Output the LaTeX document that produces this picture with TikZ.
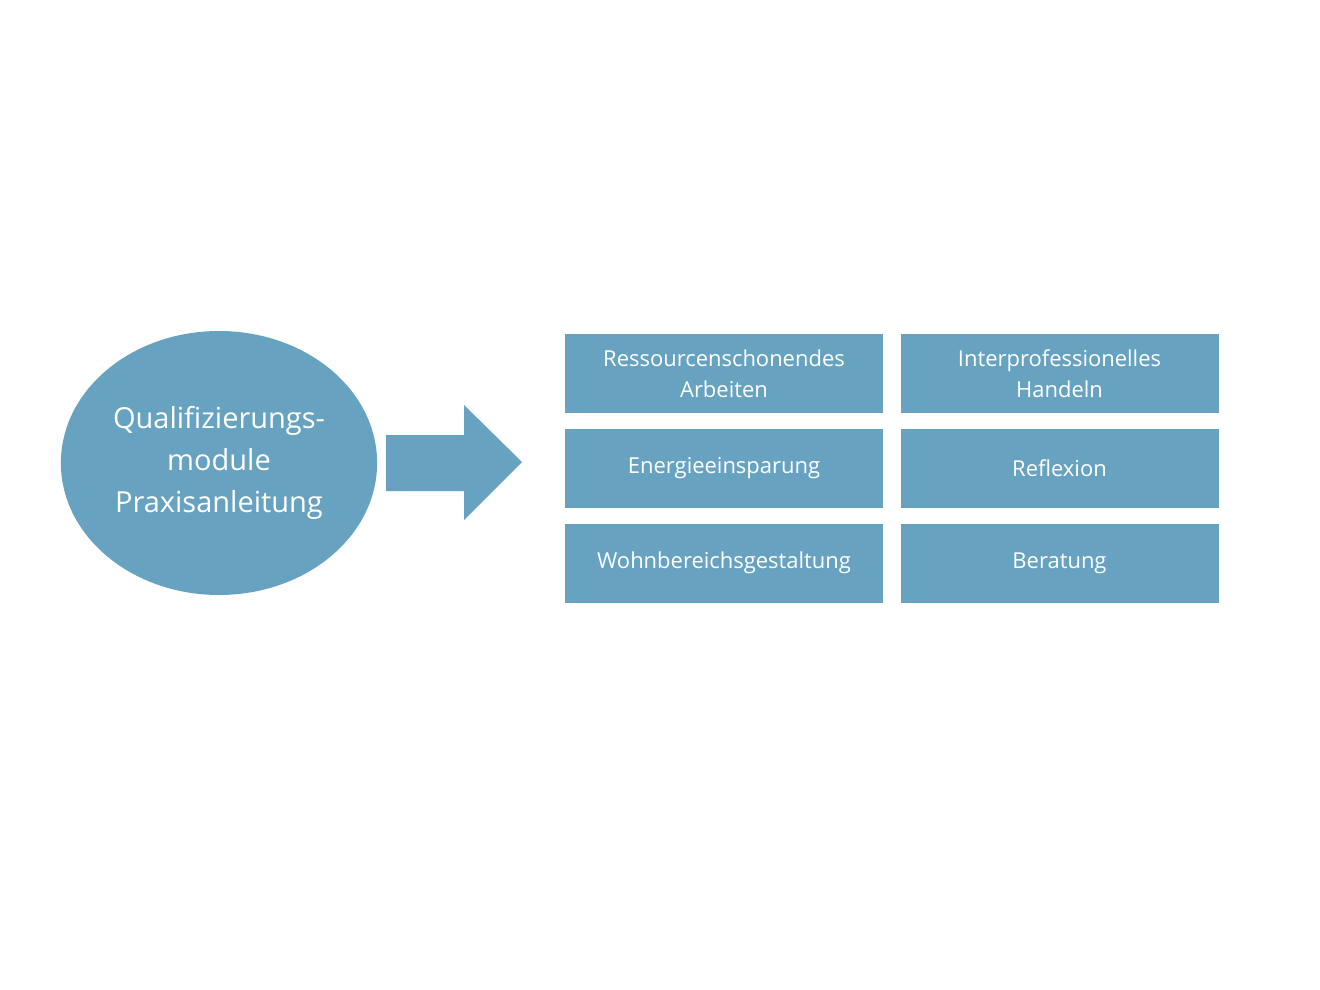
\documentclass[tikz,border=0pt]{standalone}
\usepackage{fontspec}
\setmainfont{Open Sans}
\usetikzlibrary{positioning,shapes.geometric,shapes.arrows}
\definecolor{modblue}{HTML}{67A3C0}
\tikzset{
	modbox/.style={fill=modblue, minimum width=318\unitx, minimum height=79\unitx,
		inner sep=0pt, text=white, align=center, font=\fontsize{12.5}{17.5}\selectfont},
}
\newlength{\unitx}
\setlength{\unitx}{0.02cm}
\begin{document}
\begin{tikzpicture}[x=0.02cm, y=-0.02cm]
	\useasboundingbox (0,0) rectangle (1320,990);
	% circle on the left
	\node[ellipse, fill=modblue, minimum width=298\unitx, minimum height=264\unitx,
		text=white, align=center, font=\fontsize{16.5}{24}\selectfont] (ell) at (219,463)
		{Qualifizierungs-\\module\\Praxisanleitung};
	% arrow
	\fill[modblue] (386,435) -- (464,435) -- (464,405) -- (522,462) -- (464,520) -- (464,491) -- (386,491) -- cycle;
	% boxes
	\node[modbox] (res) at (724,373.5) {Ressourcenschonendes\\Arbeiten};
	\node[modbox] (inter) at (1059.5,373.5) {Interprofessionelles\\Handeln};
	\node[modbox] (energ) at (724,468.5) {Energieeinsparung};
	\node[modbox] (refl) at (1059.5,468.5) {Reflexion};
	\node[modbox] (wohn) at (724,563) {Wohnbereichsgestaltung};
	\node[modbox] (berat) at (1059.5,563) {Beratung};
\end{tikzpicture}
\end{document}
